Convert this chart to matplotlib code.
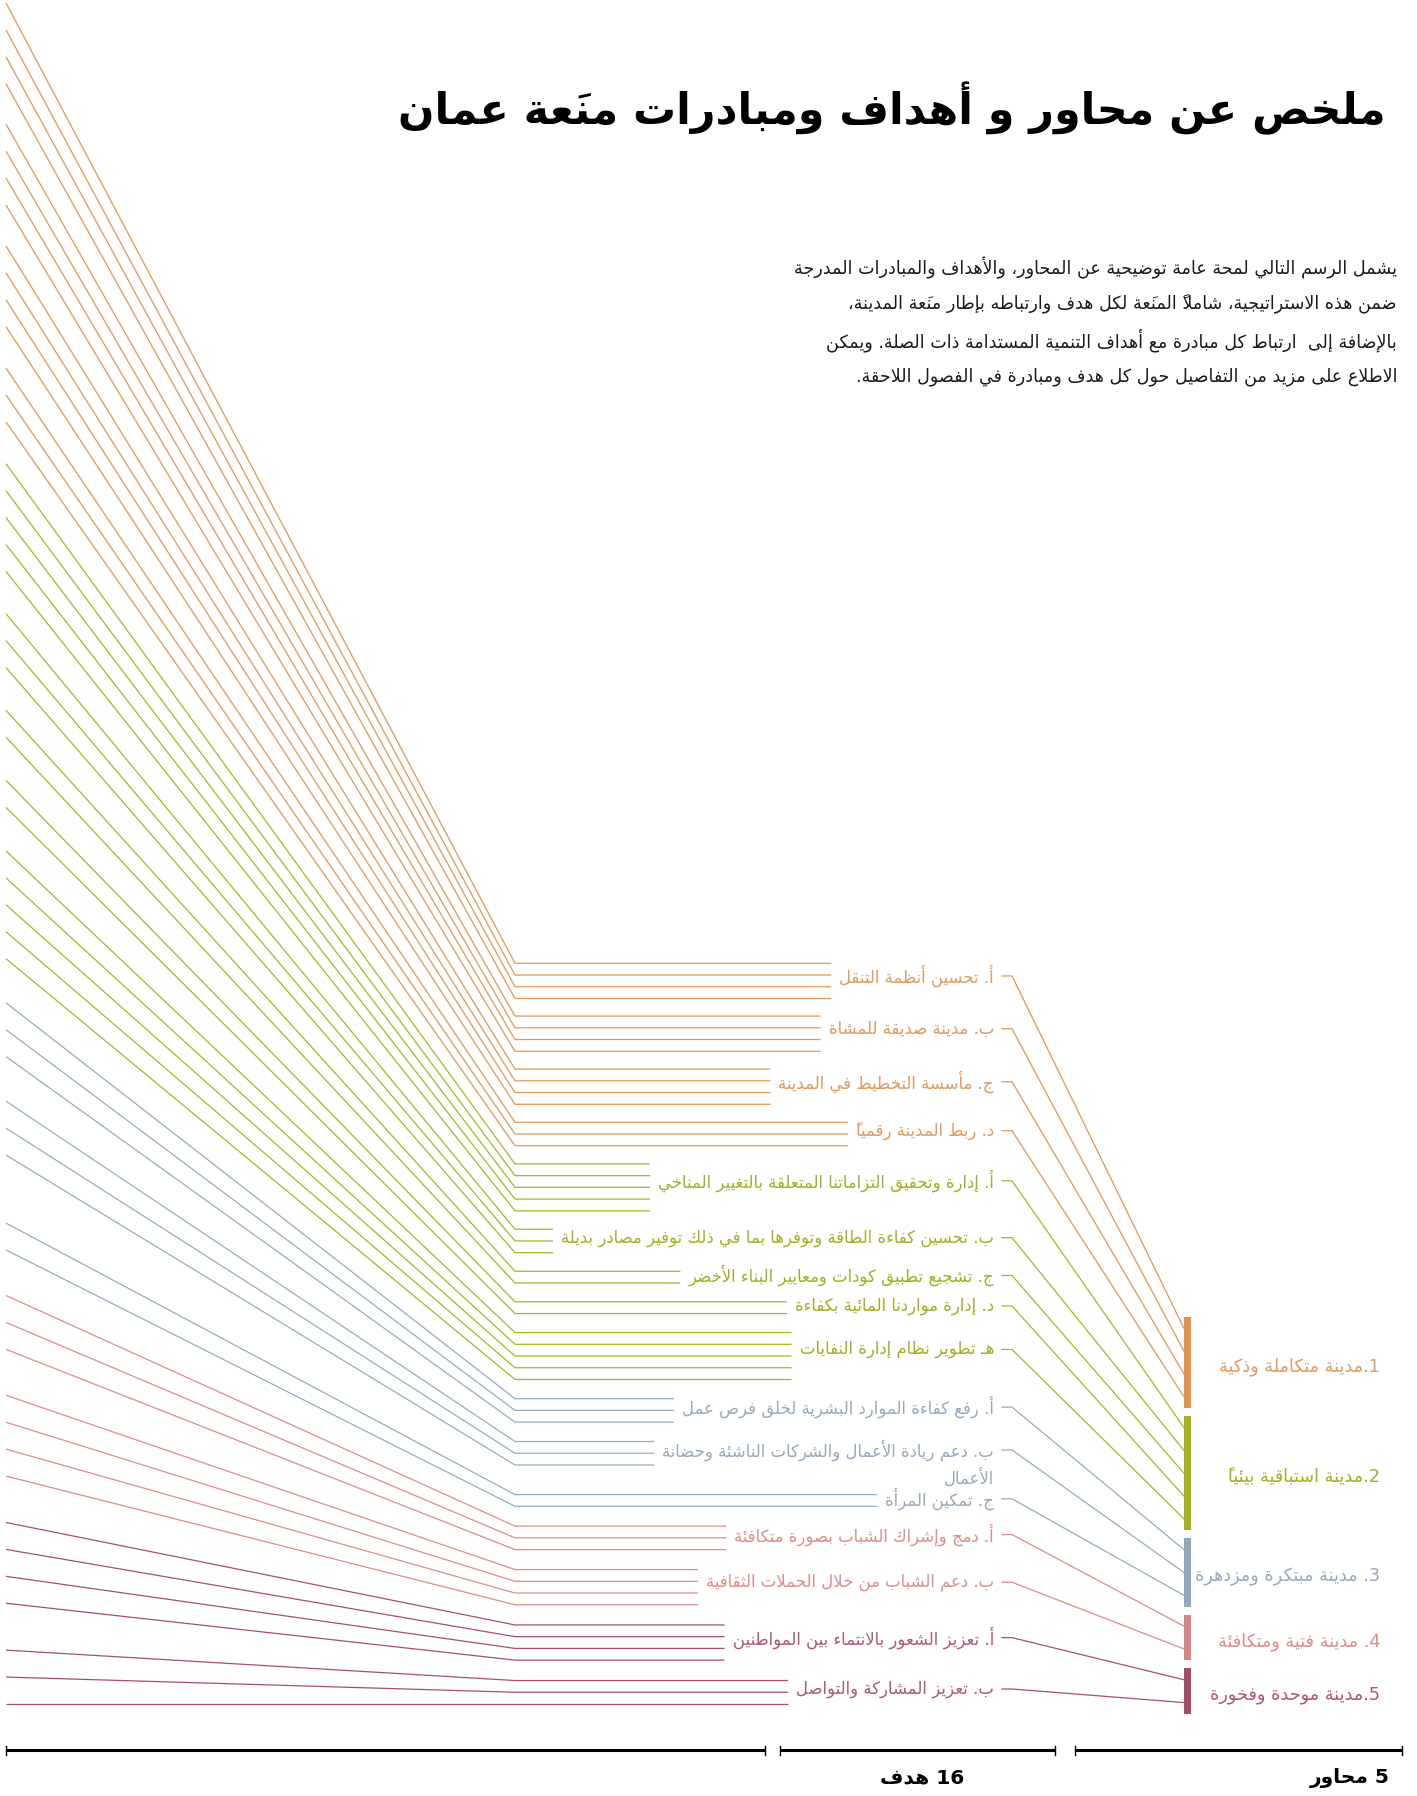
import matplotlib
matplotlib.use("Agg")
import matplotlib.pyplot as plt
import numpy as np

# ---------------- data ----------------
title_text = "ملخص عن محاور و أهداف ومبادرات منَعة عمان"
intro_lines = [
    "يشمل الرسم التالي لمحة عامة توضيحية عن المحاور، والأهداف والمبادرات المدرجة",
    "ضمن هذه الاستراتيجية، شاملاً المنَعة لكل هدف وارتباطه بإطار منَعة المدينة،",
    "بالإضافة إلى  ارتباط كل مبادرة مع أهداف التنمية المستدامة ذات الصلة. ويمكن",
    "الاطلاع على مزيد من التفاصيل حول كل هدف ومبادرة في الفصول اللاحقة.",
]
pillar_names = [
    "1.مدينة متكاملة وذكية",
    "2.مدينة استباقية بيئياً",
    "3. مدينة مبتكرة ومزدهرة",
    "4. مدينة فتية ومتكافئة",
    "5.مدينة موحدة وفخورة",
]
goal_names = [
    "أ. تحسين أنظمة التنقل",
    "ب. مدينة صديقة للمشاة",
    "ج. مأسسة التخطيط في المدينة",
    "د. ربط المدينة رقمياً",
    "أ. إدارة وتحقيق التزاماتنا المتعلقة بالتغيير المناخي",
    "ب. تحسين كفاءة الطاقة وتوفرها بما في ذلك توفير مصادر بديلة",
    "ج. تشجيع تطبيق كودات ومعايير البناء الأخضر",
    "د. إدارة مواردنا المائية بكفاءة",
    "هـ تطوير نظام إدارة النفايات",
    "أ. رفع كفاءة الموارد البشرية لخلق فرص عمل",
    "ب. دعم ريادة الأعمال والشركات الناشئة وحضانة\nالأعمال",
    "ج. تمكين المرأة",
    "أ. دمج وإشراك الشباب بصورة متكافئة",
    "ب. دعم الشباب من خلال الحملات الثقافية",
    "أ. تعزيز الشعور بالانتماء بين المواطنين",
    "ب. تعزيز المشاركة والتواصل",
]
goal_pillar = [0, 0, 0, 0, 1, 1, 1, 1, 1, 2, 2, 2, 3, 3, 4, 4]
initiatives_per_goal = [4, 4, 4, 3, 5, 3, 2, 2, 5, 3, 3, 2, 3, 4, 4, 3]
goals_word = "هدف"
pillars_word = "محاور"

# ---------------- style ----------------
line_cols = ["#E9954F", "#A9B521", "#93ADC2", "#E28A8A", "#A94D6E"]
bar_cols = ["#E0914A", "#A8B01A", "#8FAABF", "#D98585", "#A64A6A"]
text_cols = ["#E39A5C", "#A5AE22", "#97AABD", "#E08C8C", "#B0566F"]

# ---------------- minimal Arabic shaping + bidi ----------------
DUAL = {0x0626: 0xFE89, 0x0628: 0xFE8F, 0x062A: 0xFE95, 0x062B: 0xFE99, 0x062C: 0xFE9D,
        0x062D: 0xFEA1, 0x062E: 0xFEA5, 0x0633: 0xFEB1, 0x0634: 0xFEB5, 0x0635: 0xFEB9,
        0x0636: 0xFEBD, 0x0637: 0xFEC1, 0x0638: 0xFEC5, 0x0639: 0xFEC9, 0x063A: 0xFECD,
        0x0641: 0xFED1, 0x0642: 0xFED5, 0x0643: 0xFED9, 0x0644: 0xFEDD, 0x0645: 0xFEE1,
        0x0646: 0xFEE5, 0x0647: 0xFEE9, 0x064A: 0xFEF1}
RIGHT = {0x0622: 0xFE81, 0x0623: 0xFE83, 0x0624: 0xFE85, 0x0625: 0xFE87, 0x0627: 0xFE8D,
         0x0629: 0xFE93, 0x062F: 0xFEA9, 0x0630: 0xFEAB, 0x0631: 0xFEAD, 0x0632: 0xFEAF,
         0x0648: 0xFEED, 0x0649: 0xFEEF}
LAMALEF = {0x0622: (0xFEF5, 0xFEF6), 0x0623: (0xFEF7, 0xFEF8),
           0x0625: (0xFEF9, 0xFEFA), 0x0627: (0xFEFB, 0xFEFC)}


def is_mark(c):
    cp = ord(c)
    return 0x064B <= cp <= 0x065F or cp == 0x0670 or 0x0610 <= cp <= 0x061A


def jtype(c):
    cp = ord(c)
    if cp in DUAL:
        return "D"
    if cp in RIGHT:
        return "R"
    if cp == 0x0640:
        return "C"
    if is_mark(c):
        return "T"
    return "U"


def shape(s):
    ch = list(s)
    n = len(ch)
    tp = [jtype(c) for c in ch]
    out, skip = [], set()
    for i, c in enumerate(ch):
        if i in skip:
            continue
        t = tp[i]
        if t in ("T", "U"):
            out.append("\uFE80" if c == "\u0621" else c)
            continue
        j = i - 1
        while j >= 0 and tp[j] == "T":
            j -= 1
        k = i + 1
        while k < n and tp[k] == "T":
            k += 1
        jp = j >= 0 and tp[j] in "DC"
        jn = k < n and t in "DC" and tp[k] in "DRC"
        if c == "\u0644" and k < n and ord(ch[k]) in LAMALEF:
            iso, fin = LAMALEF[ord(ch[k])]
            out.append(chr(fin if jp else iso))
            for m in range(i + 1, k):
                out.append(ch[m])
                skip.add(m)
            skip.add(k)
            continue
        if t == "C":
            out.append(c)
            continue
        cp = ord(c)
        if t == "D":
            b = DUAL[cp]
            f = b + 3 if (jp and jn) else b + 1 if jp else b + 2 if jn else b
        else:
            b = RIGHT[cp]
            f = b + 1 if jp else b
        out.append(chr(f))
    return "".join(out)


def vis(s):
    sh = shape(s)
    clusters = []
    for c in sh:
        if is_mark(c) and clusters:
            clusters[-1] += c
        else:
            clusters.append(c)
    runs = []
    for cl in clusters:
        ltr = cl[0].isascii() and cl[0].isalnum()
        if runs and runs[-1][0] == ltr:
            runs[-1][1].append(cl)
        else:
            runs.append([ltr, [cl]])
    out = ""
    for ltr, cls in reversed(runs):
        if ltr:
            out += "".join(cls)
        else:
            # marks placed before their base so they sit on it when drawn left-to-right
            out += "".join(cl[1:] + cl[0] for cl in reversed(cls))
    return out


# ---------------- figure ----------------
W, H = 1417, 1796
fig = plt.figure(figsize=(W / 100, H / 100), dpi=100)
ax = fig.add_axes([0, 0, 1, 1])
ax.set_xlim(0, W)
ax.set_ylim(H, 0)
ax.axis("off")
renderer = fig.canvas.get_renderer()
FONT = ["DejaVu Sans"]


def width_of(t):
    return t.get_window_extent(renderer).width


def fit_size(s, target, weight="normal"):
    t = ax.text(0, 0, vis(s), fontsize=10, family=FONT, weight=weight)
    w = width_of(t)
    t.remove()
    return 10 * target / w


# layout constants
X_LEFT, X_BREAK, X_LABEL = 6, 515, 994
X_DASH0, X_DASH1, X_BAR = 1002, 1012, 1184
Y_TOP_R, Y_BOT = 963.3, 1704.0
GAP0, GAP_STEP, EXTRA_WRAP = 17.4, 0.2, 10.0
n_goals = len(goal_names)
n_within = sum(c - 1 for c in initiatives_per_goal)
gaps = [GAP0 + GAP_STEP * g + (EXTRA_WRAP if "\n" in goal_names[g - 1] else 0)
        for g in range(1, n_goals)]
S_IN = (Y_BOT - Y_TOP_R - sum(gaps)) / n_within
Y_TOP_L = 3.0
K = (Y_BOT - Y_TOP_L) / (Y_BOT - Y_TOP_R)

goal_fs = fit_size(goal_names[0], 155)
pillar_fs = fit_size(pillar_names[0], 160)

# pillar bars
BAR_TOP, BAR_BOT, BAR_GAP = 1317, 1714, 8
goals_in_pillar = [goal_pillar.count(p) for p in range(len(pillar_names))]
unit = (BAR_BOT - BAR_TOP - BAR_GAP * (len(pillar_names) - 1)) / sum(goals_in_pillar)
bar_tops, bar_hs = [], []
yb = BAR_TOP
for p, ng in enumerate(goals_in_pillar):
    h = ng * unit
    bar_tops.append(yb)
    bar_hs.append(h)
    yb += h + BAR_GAP
ax.bar([X_BAR + 3.5] * len(pillar_names), bar_hs, bottom=bar_tops, width=7,
       color=bar_cols, zorder=3)
for p, name in enumerate(pillar_names):
    ax.text(1380, bar_tops[p] + bar_hs[p] / 2 + 4, vis(name), ha="right", va="center",
            fontsize=pillar_fs, family=FONT, color=text_cols[p])

# goals & initiatives
y = Y_TOP_R
slot_in_pillar = [0] * len(pillar_names)
for g, (name, p, cnt) in enumerate(zip(goal_names, goal_pillar, initiatives_per_goal)):
    if g > 0:
        y += gaps[g - 1]
    ys = [y + k * S_IN for k in range(cnt)]
    y = ys[-1]
    ly = ys[0] + 0.36 * (ys[-1] - ys[0])
    parts = name.split("\n")
    first = ax.text(X_LABEL, ly, vis(parts[0]), ha="right", va="center",
                    fontsize=goal_fs, family=FONT, color=text_cols[p])
    for li, extra in enumerate(parts[1:], start=1):
        ax.text(X_LABEL, ly + 28 * li, vis(extra), ha="right", va="center",
                fontsize=goal_fs, family=FONT, color=text_cols[p])
    x_end = X_LABEL - width_of(first) - 8
    for ry in ys:
        lyy = Y_BOT - K * (Y_BOT - ry)
        ax.plot([X_LEFT, X_BREAK, x_end], [lyy, ry, ry], color=line_cols[p], lw=0.9,
                solid_capstyle="butt")
    # connector to pillar bar
    ng = goals_in_pillar[p]
    s = slot_in_pillar[p]
    slot_in_pillar[p] += 1
    ey = bar_tops[p] + bar_hs[p] * (s + 0.5) / ng
    ax.plot([X_DASH0, X_DASH1, X_BAR], [ly, ly, ey], color=line_cols[p], lw=0.9, zorder=2)

# title & intro
title_fs = fit_size(title_text, 990, weight="bold")
ax.text(1386, 108, vis(title_text), ha="right", va="center", fontsize=title_fs,
        family=FONT, weight="bold", color="black")
intro_fs = fit_size(intro_lines[0], 600)
for i, ln in enumerate(intro_lines):
    ax.text(1397, 268 + i * 36.3, vis(ln), ha="right", va="center", fontsize=intro_fs,
            family=FONT, color="#1a1a1a")

# bottom brackets
brackets = [(6, 765), (780, 1055), (1075, 1402)]
YB = 1750
for x0, x1 in brackets:
    ax.plot([x0, x1], [YB, YB], color="black", lw=2.2, solid_capstyle="butt")
    for xx in (x0, x1):
        ax.plot([xx, xx], [YB - 4, YB + 5], color="black", lw=1.0)
lab_fs = fit_size(f"{len(pillar_names)} {pillars_word}", 80, weight="bold")
ax.text(922, 1778, vis(f"{n_goals} {goals_word}"), ha="center", va="center",
        fontsize=lab_fs, family=FONT, weight="bold", color="black")
ax.text(1390, 1778, vis(f"{len(pillar_names)} {pillars_word}"), ha="right", va="center",
        fontsize=lab_fs, family=FONT, weight="bold", color="black")

fig.savefig("out.png", dpi=100, facecolor="white")
